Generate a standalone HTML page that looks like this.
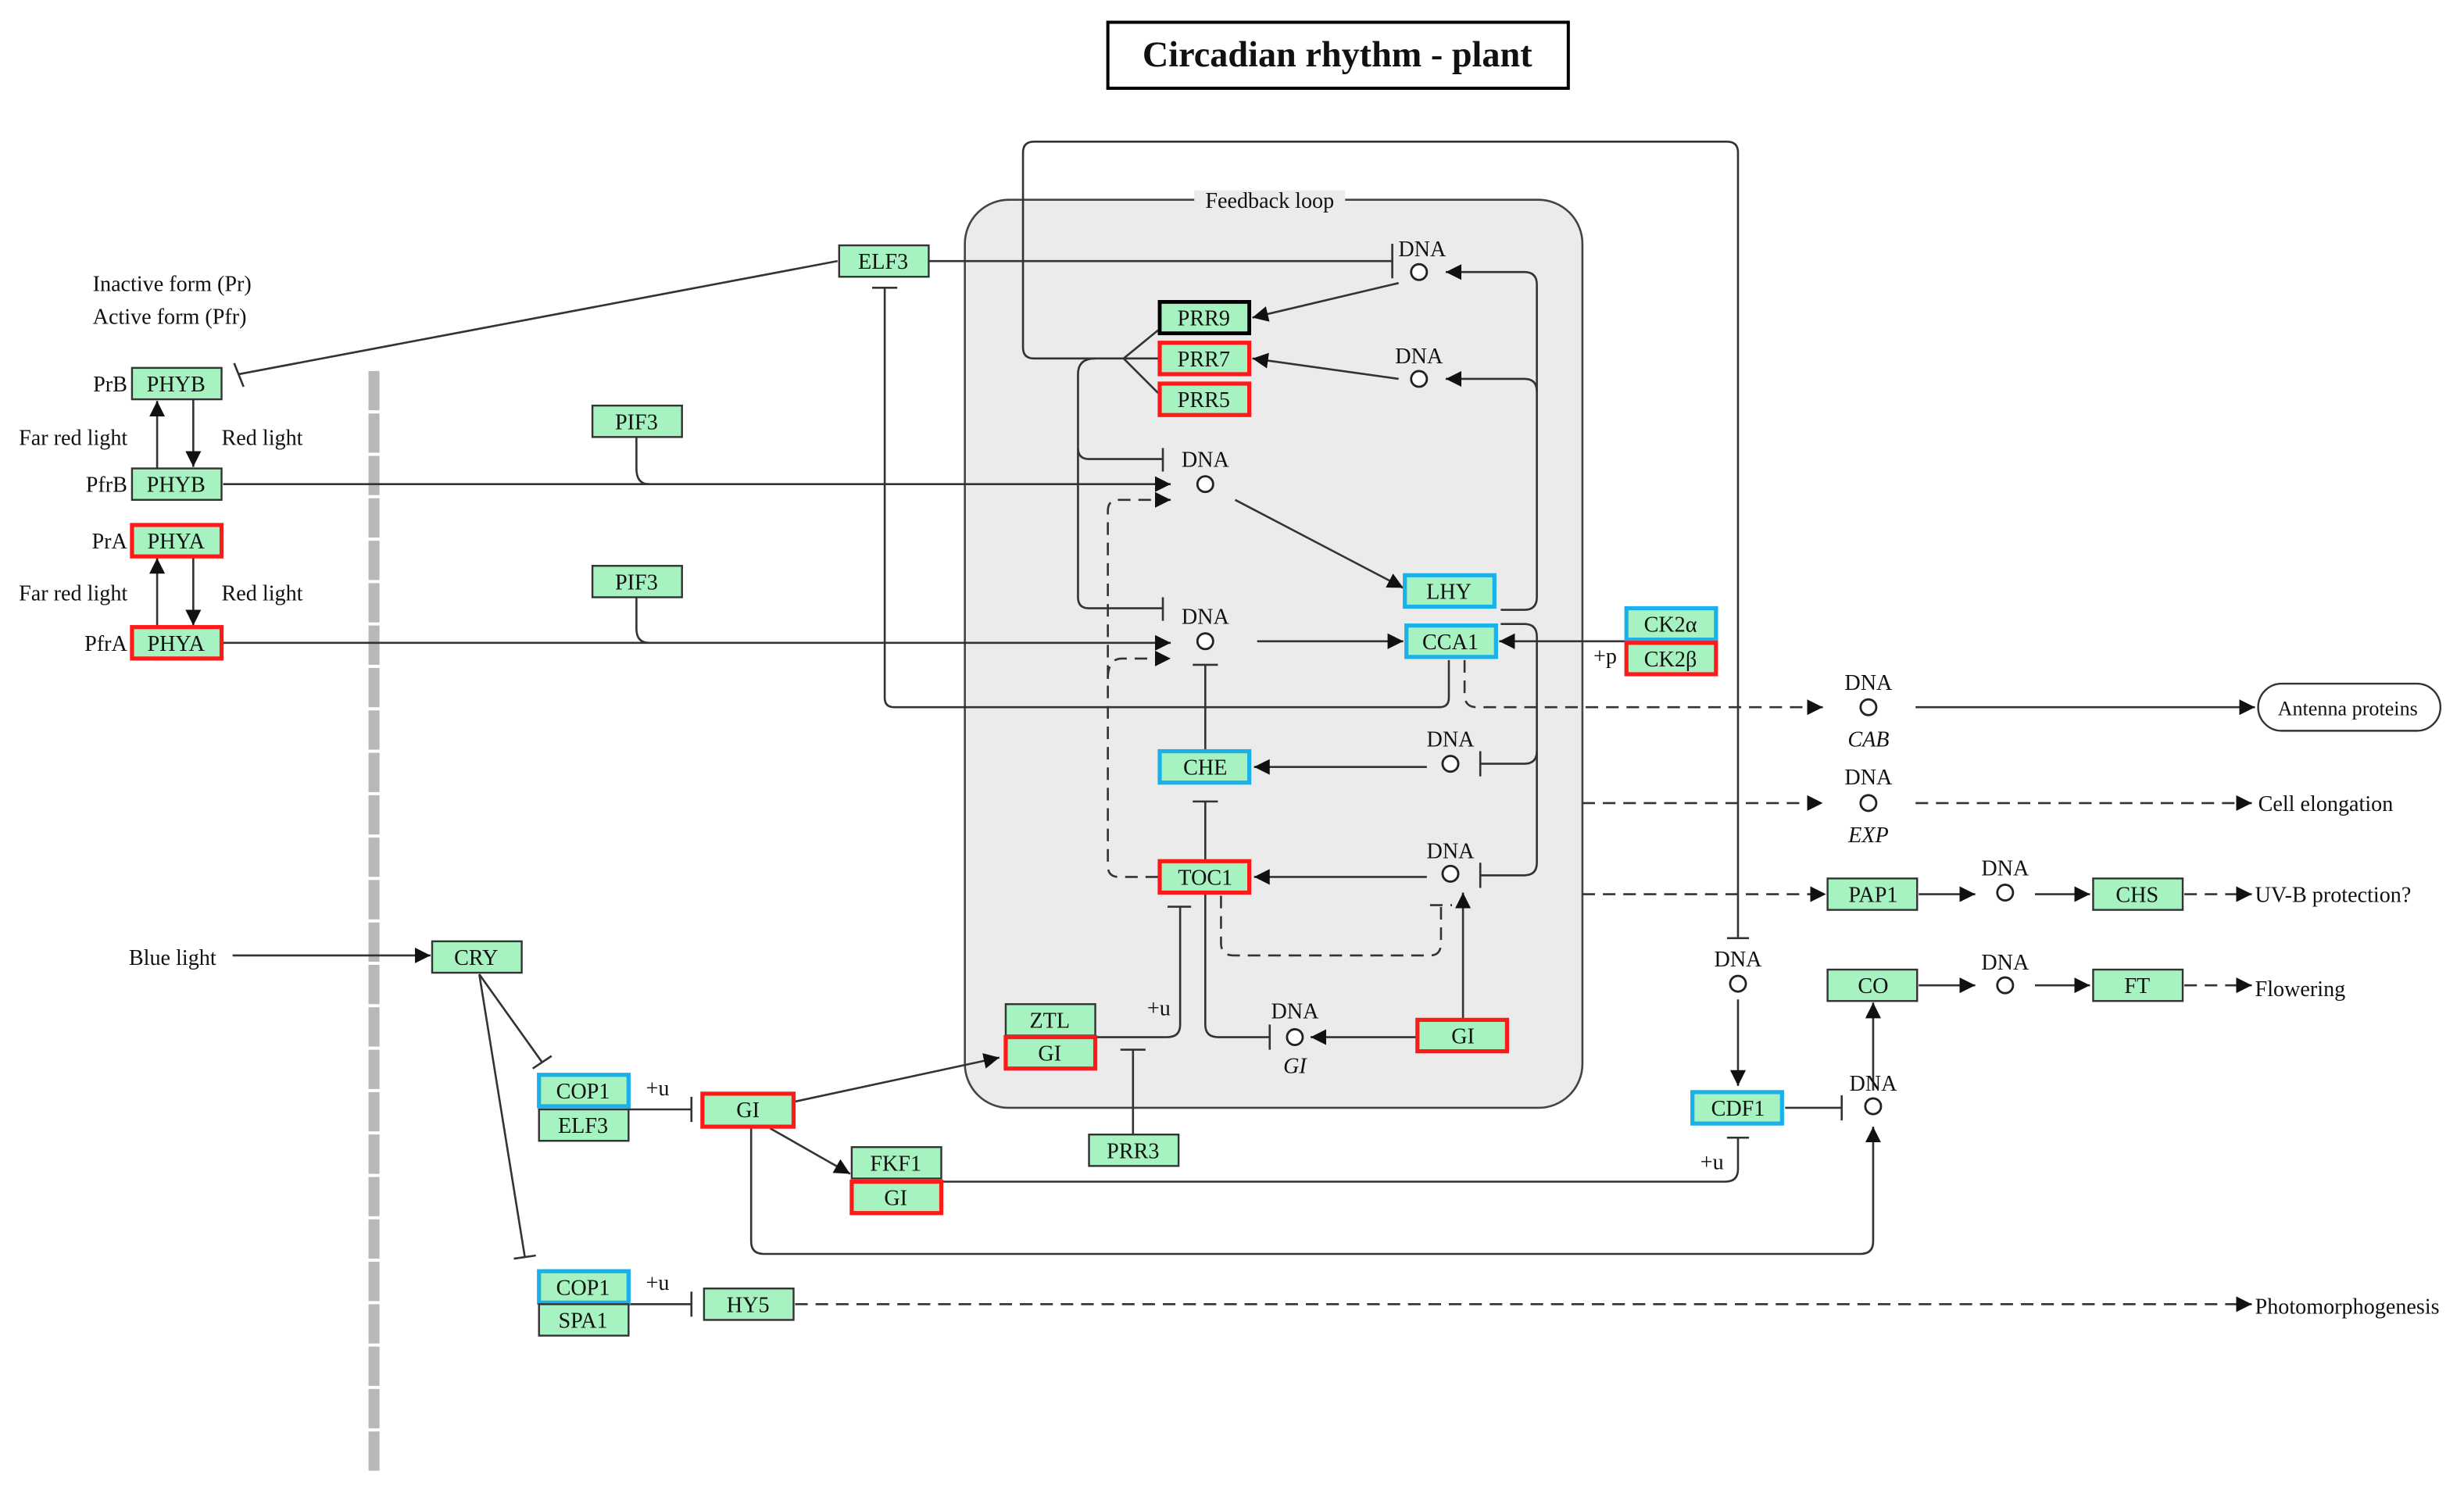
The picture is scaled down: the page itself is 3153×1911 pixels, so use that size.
<!DOCTYPE html>
<html><head><meta charset="utf-8"><style>
html,body{margin:0;padding:0;background:#fff;}
svg{display:block;}
text{font-family:"Liberation Serif",serif;font-size:14px;fill:#111;}
.n{fill:#a6f2c0;stroke:#333;stroke-width:1.2;}
.r{fill:#a6f2c0;stroke:#ff1a1a;stroke-width:2.6;}
.b{fill:#a6f2c0;stroke:#1ab0ea;stroke-width:2.6;}
.k{fill:#a6f2c0;stroke:#000;stroke-width:2.4;}
.l{fill:none;stroke:#333;stroke-width:1.3;}
.d{fill:none;stroke:#333;stroke-width:1.3;stroke-dasharray:8,5;}
.c{fill:#fff;stroke:#222;stroke-width:1.4;}
.t{text-anchor:middle;}
</style></head><body>
<svg width="3153" height="1911" viewBox="0 0 1568 950" xmlns="http://www.w3.org/2000/svg">
<defs><marker id="a" viewBox="0 0 10 10" refX="10" refY="5" markerWidth="10" markerHeight="10" markerUnits="userSpaceOnUse" orient="auto"><path d="M0,0L10,5L0,10z" fill="#111"/></marker></defs>
<rect width="1568" height="950" fill="#fff"/>
<rect x="705" y="14" width="293" height="42" fill="#fff" stroke="#000" stroke-width="2"/>
<text x="851" y="42" class="t" style="font-size:23px;font-weight:bold">Circadian rhythm - plant</text>
<rect x="614" y="127" width="393" height="578" rx="28" fill="#ebebeb" stroke="#444" stroke-width="1.3"/>
<rect x="760" y="121" width="96" height="12" fill="#ebebeb"/>
<text x="808" y="132" class="t">Feedback loop</text>
<line x1="238" y1="236" x2="238" y2="936" stroke="#b8b8b8" stroke-width="7" stroke-dasharray="25,2"/>
<path class="l" d="M715,228H658Q651,228 651,221V97Q651,90 658,90H1099Q1106,90 1106,97V597"/>
<line class="l" x1="1099" y1="597" x2="1113" y2="597"/>
<path class="l" d="M737,210L715,228L737,250M715,228H737"/>
<path class="l" d="M697,228Q686,228 686,238V380Q686,387 693,387H740M740,380V395"/>
<path class="l" d="M686,285Q686,292 693,292H740M740,285V300"/>
<path class="l" d="M533,166L152,238M149,231L155,246"/>
<path class="l" d="M591,166H886M886,155V177"/>
<path class="l" d="M555,183H571M563,183V444Q563,450 569,450H916Q922,450 922,444V420"/>
<line class="l" x1="100" y1="298" x2="100" y2="255" marker-end="url(#a)"/>
<line class="l" x1="123" y1="254" x2="123" y2="297" marker-end="url(#a)"/>
<line class="l" x1="100" y1="399" x2="100" y2="355" marker-end="url(#a)"/>
<line class="l" x1="123" y1="355" x2="123" y2="398" marker-end="url(#a)"/>
<line class="l" x1="142" y1="308" x2="745" y2="308" marker-end="url(#a)"/>
<line class="l" x1="142" y1="409" x2="745" y2="409" marker-end="url(#a)"/>
<path class="l" d="M405,278V298Q405,308 413,308"/>
<path class="l" d="M405,380V400Q405,409 413,409"/>
<path class="d" d="M737,558H712Q705,558 705,551V325Q705,318 712,318H745" marker-end="url(#a)"/>
<path class="d" d="M705,432Q705,419 714,419H745" marker-end="url(#a)"/>
<line class="l" x1="890" y1="180" x2="797" y2="202" marker-end="url(#a)"/>
<line class="l" x1="890" y1="241" x2="797" y2="228" marker-end="url(#a)"/>
<path class="l" d="M955,388H970Q978,388 978,380V181Q978,173 970,173H920" marker-end="url(#a)"/>
<path class="l" d="M978,249Q978,241 970,241H920" marker-end="url(#a)"/>
<path class="l" d="M955,397H970Q978,397 978,405V549Q978,557 970,557H942M942,549V565"/>
<path class="l" d="M978,478Q978,486 970,486H942M942,478V494"/>
<line class="l" x1="786" y1="318" x2="893" y2="374" marker-end="url(#a)"/>
<line class="l" x1="800" y1="408" x2="893" y2="408" marker-end="url(#a)"/>
<line class="l" x1="1034" y1="408" x2="954" y2="408" marker-end="url(#a)"/>
<text x="1014" y="422">+p</text>
<path class="d" d="M932,420V442Q932,450 940,450H1160" marker-end="url(#a)"/>
<line class="l" x1="1219" y1="450" x2="1435" y2="450" marker-end="url(#a)"/>
<line class="d" x1="1007" y1="511" x2="1160" y2="511" marker-end="url(#a)"/>
<line class="d" x1="1219" y1="511" x2="1433" y2="511" marker-end="url(#a)"/>
<line class="d" x1="1007" y1="569" x2="1162" y2="569" marker-end="url(#a)"/>
<line class="l" x1="1221" y1="569" x2="1257" y2="569" marker-end="url(#a)"/>
<line class="l" x1="1295" y1="569" x2="1330" y2="569" marker-end="url(#a)"/>
<line class="d" x1="1390" y1="569" x2="1433" y2="569" marker-end="url(#a)"/>
<line class="l" x1="1221" y1="627" x2="1257" y2="627" marker-end="url(#a)"/>
<line class="l" x1="1295" y1="627" x2="1330" y2="627" marker-end="url(#a)"/>
<line class="d" x1="1390" y1="627" x2="1433" y2="627" marker-end="url(#a)"/>
<line class="l" x1="908" y1="488" x2="798" y2="488" marker-end="url(#a)"/>
<line class="l" x1="908" y1="558" x2="798" y2="558" marker-end="url(#a)"/>
<path class="l" d="M767,478V423M759,423H775"/>
<path class="l" d="M767,548V510M759,510H775"/>
<path class="l" d="M767,569V652Q767,660 775,660H808M808,652V668"/>
<line class="l" x1="902" y1="660" x2="834" y2="660" marker-end="url(#a)"/>
<path class="d" d="M777,570V600Q777,608 785,608H910Q917,608 917,600V576M910,576H924"/>
<line class="l" x1="931" y1="649" x2="931" y2="568" marker-end="url(#a)"/>
<path class="l" d="M698,660H743Q751,660 751,652V577M743,577H758"/>
<text x="730" y="646">+u</text>
<path class="l" d="M721,722V668M713,668H729"/>
<line class="l" x1="148" y1="608" x2="274" y2="608" marker-end="url(#a)"/>
<path class="l" d="M305,620L345,676M339,680L351,672"/>
<path class="l" d="M305,620L334,800M327,801L341,799"/>
<path class="l" d="M400,706H440M440,698V714"/>
<text x="411" y="697">+u</text>
<path class="l" d="M400,830H440M440,822V838"/>
<text x="411" y="821">+u</text>
<line class="d" x1="506" y1="830" x2="1433" y2="830" marker-end="url(#a)"/>
<line class="l" x1="506" y1="701" x2="636" y2="673" marker-end="url(#a)"/>
<line class="l" x1="490" y1="718" x2="541" y2="747" marker-end="url(#a)"/>
<path class="l" d="M478,718V790Q478,798 486,798H1184Q1192,798 1192,790V717" marker-end="url(#a)"/>
<path class="l" d="M600,752H1098Q1106,752 1106,744V724M1099,724H1113"/>
<text x="1082" y="744">+u</text>
<line class="l" x1="1106" y1="636" x2="1106" y2="691" marker-end="url(#a)"/>
<path class="l" d="M1136,705H1172M1172,697V713"/>
<line class="l" x1="1192" y1="694" x2="1192" y2="638" marker-end="url(#a)"/>
<g>
<rect class="n" x="534" y="156" width="57" height="20"/><text class="t" x="562" y="171">ELF3</text>
<rect class="n" x="84" y="234" width="57" height="20"/><text class="t" x="112" y="249">PHYB</text>
<rect class="n" x="84" y="298" width="57" height="20"/><text class="t" x="112" y="313">PHYB</text>
<rect class="r" x="84" y="334" width="57" height="20"/><text class="t" x="112" y="349">PHYA</text>
<rect class="r" x="84" y="399" width="57" height="20"/><text class="t" x="112" y="414">PHYA</text>
<rect class="n" x="377" y="258" width="57" height="20"/><text class="t" x="405" y="273">PIF3</text>
<rect class="n" x="377" y="360" width="57" height="20"/><text class="t" x="405" y="375">PIF3</text>
<rect class="k" x="738" y="192" width="57" height="20"/><text class="t" x="766" y="207">PRR9</text>
<rect class="r" x="738" y="218" width="57" height="20"/><text class="t" x="766" y="233">PRR7</text>
<rect class="r" x="738" y="244" width="57" height="20"/><text class="t" x="766" y="259">PRR5</text>
<rect class="b" x="894" y="366" width="57" height="20"/><text class="t" x="922" y="381">LHY</text>
<rect class="b" x="895" y="398" width="57" height="20"/><text class="t" x="923" y="413">CCA1</text>
<rect class="b" x="1035" y="387" width="57" height="20"/><text class="t" x="1063" y="402">CK2α</text>
<rect class="r" x="1035" y="409" width="57" height="20"/><text class="t" x="1063" y="424">CK2β</text>
<rect class="b" x="738" y="478" width="57" height="20"/><text class="t" x="767" y="493">CHE</text>
<rect class="r" x="738" y="548" width="57" height="20"/><text class="t" x="767" y="563">TOC1</text>
<rect class="n" x="640" y="639" width="57" height="20"/><text class="t" x="668" y="654">ZTL</text>
<rect class="r" x="640" y="660" width="57" height="20"/><text class="t" x="668" y="675">GI</text>
<rect class="r" x="902" y="649" width="57" height="20"/><text class="t" x="931" y="664">GI</text>
<rect class="n" x="693" y="722" width="57" height="20"/><text class="t" x="721" y="737">PRR3</text>
<rect class="n" x="275" y="599" width="57" height="20"/><text class="t" x="303" y="614">CRY</text>
<rect class="b" x="343" y="684" width="57" height="20"/><text class="t" x="371" y="699">COP1</text>
<rect class="n" x="343" y="706" width="57" height="20"/><text class="t" x="371" y="721">ELF3</text>
<rect class="r" x="447" y="696" width="58" height="21"/><text class="t" x="476" y="711">GI</text>
<rect class="n" x="542" y="730" width="57" height="20"/><text class="t" x="570" y="745">FKF1</text>
<rect class="r" x="542" y="752" width="57" height="20"/><text class="t" x="570" y="767">GI</text>
<rect class="b" x="343" y="809" width="57" height="20"/><text class="t" x="371" y="824">COP1</text>
<rect class="n" x="343" y="830" width="57" height="20"/><text class="t" x="371" y="845">SPA1</text>
<rect class="n" x="448" y="820" width="57" height="20"/><text class="t" x="476" y="835">HY5</text>
<rect class="b" x="1077" y="695" width="57" height="20"/><text class="t" x="1106" y="710">CDF1</text>
<rect class="n" x="1163" y="559" width="57" height="20"/><text class="t" x="1192" y="574">PAP1</text>
<rect class="n" x="1332" y="559" width="57" height="20"/><text class="t" x="1360" y="574">CHS</text>
<rect class="n" x="1163" y="617" width="57" height="20"/><text class="t" x="1192" y="632">CO</text>
<rect class="n" x="1332" y="617" width="57" height="20"/><text class="t" x="1360" y="632">FT</text>
<rect x="1437" y="435" width="116" height="30" rx="15" fill="#fff" stroke="#333" stroke-width="1.2"/><text class="t" x="1494" y="455" style="font-size:13px">Antenna proteins</text>
</g>
<g>
<circle class="c" cx="903" cy="173" r="5"/><text class="t" x="905" y="163">DNA</text>
<circle class="c" cx="903" cy="241" r="5"/><text class="t" x="903" y="231">DNA</text>
<circle class="c" cx="767" cy="308" r="5"/><text class="t" x="767" y="297">DNA</text>
<circle class="c" cx="767" cy="408" r="5"/><text class="t" x="767" y="397">DNA</text>
<circle class="c" cx="923" cy="486" r="5"/><text class="t" x="923" y="475">DNA</text>
<circle class="c" cx="923" cy="556" r="5"/><text class="t" x="923" y="546">DNA</text>
<circle class="c" cx="824" cy="660" r="5"/><text class="t" x="824" y="648">DNA</text><text class="t" x="824" y="683" style="font-style:italic">GI</text>
<circle class="c" cx="1189" cy="450" r="5"/><text class="t" x="1189" y="439">DNA</text><text class="t" x="1189" y="475" style="font-style:italic">CAB</text>
<circle class="c" cx="1189" cy="511" r="5"/><text class="t" x="1189" y="499">DNA</text><text class="t" x="1189" y="536" style="font-style:italic">EXP</text>
<circle class="c" cx="1276" cy="568" r="5"/><text class="t" x="1276" y="557">DNA</text>
<circle class="c" cx="1106" cy="626" r="5"/><text class="t" x="1106" y="615">DNA</text>
<circle class="c" cx="1276" cy="627" r="5"/><text class="t" x="1276" y="617">DNA</text>
<circle class="c" cx="1192" cy="704" r="5"/><text class="t" x="1192" y="694">DNA</text>
</g>
<g style="font-size:13px">
<text x="59" y="185">Inactive form (Pr)</text>
<text x="59" y="206">Active form (Pfr)</text>
<text x="81" y="249" text-anchor="end">PrB</text>
<text x="81" y="313" text-anchor="end">PfrB</text>
<text x="81" y="349" text-anchor="end">PrA</text>
<text x="81" y="414" text-anchor="end">PfrA</text>
<text x="12" y="283">Far red light</text>
<text x="141" y="283">Red light</text>
<text x="12" y="382">Far red light</text>
<text x="141" y="382">Red light</text>
<text x="82" y="614">Blue light</text>
<text x="1437" y="516">Cell elongation</text>
<text x="1435" y="574">UV-B protection?</text>
<text x="1435" y="634">Flowering</text>
<text x="1435" y="836">Photomorphogenesis</text>
</g>
</svg>
</body></html>
